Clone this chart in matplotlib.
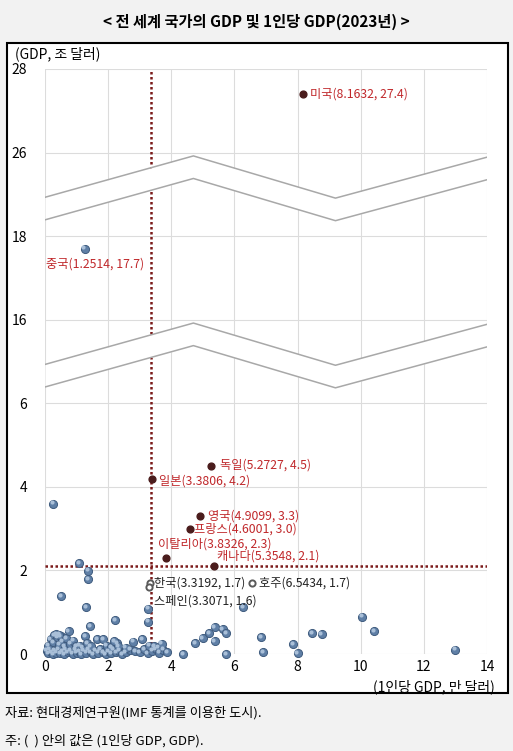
import matplotlib
matplotlib.use("Agg")
import matplotlib.pyplot as plt
import matplotlib.transforms as mtransforms
import numpy as np
from matplotlib.patches import Rectangle

plt.rcParams['font.family'] = ['Noto Sans CJK KR', 'DejaVu Sans']

# ---- data: (1인당 GDP 만 달러, GDP 조 달러) ----
other_x = [0.05, 0.1, 0.15, 0.2, 0.25, 0.3, 0.35, 0.42, 0.48, 0.55, 0.6, 0.65, 0.72, 0.8,
           0.88, 0.95, 1.0, 1.08, 1.15, 1.22, 1.3, 1.38, 1.45, 1.52, 1.6, 1.68, 1.75, 1.85,
           1.92, 2.0, 2.1, 2.18, 2.25, 2.35, 2.45, 2.55, 2.7, 2.85, 3.0, 3.15, 3.25, 3.4,
           3.5, 3.62, 3.75, 3.88,
           0.1, 0.18, 0.25, 0.3, 0.38, 0.45, 0.5, 0.55, 0.62, 0.68, 0.8, 0.9, 0.98, 1.1,
           1.2, 1.27, 1.33, 1.45, 1.66, 1.84, 1.95, 2.1, 2.28, 2.32, 2.2, 2.55, 2.79, 3.07,
           3.3, 3.45, 3.6, 3.7, 0.36, 0.44,
           0.25, 1.08, 1.36, 1.36, 0.51, 1.30, 2.22, 1.43, 3.26, 3.26, 0.75,
           4.38, 4.75, 5.0, 5.2, 5.38, 5.63, 5.73, 5.38, 5.73, 6.27, 6.84, 6.91, 7.86, 8.01,
           8.46, 8.77, 10.04, 10.42, 12.99]
other_y = [0.08, 0.02, 0.12, 0.05, 0.0, 0.08, 0.03, 0.1, 0.02, 0.06, 0.0, 0.12, 0.04, 0.08,
           0.01, 0.1, 0.03, 0.06, 0.0, 0.09, 0.03, 0.12, 0.05, 0.0, 0.08, 0.03, 0.11, 0.04,
           0.0, 0.07, 0.02, 0.1, 0.04, 0.08, 0.0, 0.05, 0.1, 0.06, 0.04, 0.12, 0.02, 0.08,
           0.12, 0.03, 0.1, 0.04,
           0.2, 0.35, 0.28, 0.45, 0.4, 0.22, 0.42, 0.3, 0.18, 0.38, 0.25, 0.32, 0.18, 0.2,
           0.15, 0.42, 0.26, 0.18, 0.36, 0.36, 0.2, 0.17, 0.26, 0.18, 0.3, 0.15, 0.29, 0.36,
           0.2, 0.18, 0.16, 0.25, 0.48, 0.46,
           3.6, 2.18, 1.99, 1.79, 1.39, 1.12, 0.81, 0.67, 1.08, 0.77, 0.55,
           0.0, 0.26, 0.38, 0.5, 0.64, 0.6, 0.5, 0.31, 0.0, 1.12, 0.4, 0.05, 0.24, 0.02,
           0.5, 0.48, 0.89, 0.55, 0.1]

major_names = ['미국', '독일', '일본', '영국', '프랑스', '이탈리아', '캐나다']
major_x = [8.1632, 5.2727, 3.3806, 4.9099, 4.6001, 3.8326, 5.3548]
major_y = [27.4, 4.5, 4.2, 3.3, 3.0, 2.3, 2.1]

china_x, china_y = 1.2514, 17.7

hollow_names = ['한국', '스페인', '호주']
hollow_x = [3.3192, 3.3071, 6.5434]
hollow_y = [1.7, 1.6, 1.7]

avg_x = 3.35
avg_y = 2.1

y_ticks = [0, 2, 4, 6, 16, 18, 26, 28]

# broken y axis: real value -> display position
real_pts = [0, 6, 16, 18, 26, 28]
disp_pts = [0, 6, 8, 10, 12, 14]


def fwd(v):
    return np.interp(v, real_pts, disp_pts)


def inv(d):
    return np.interp(d, disp_pts, real_pts)


fig = plt.figure(figsize=(5.13, 7.51), dpi=100)
fig.patch.set_facecolor('#f2f2f2')
fig.patches.append(Rectangle((7 / 513, 58 / 751), 501 / 513, 650 / 751,
                             transform=fig.transFigure, facecolor='white',
                             edgecolor='black', lw=1.5, zorder=-1))

ax = fig.add_axes([45 / 513, 97 / 751, 442 / 513, 585 / 751])
ax.set_facecolor('none')
ax.set_yscale('function', functions=(fwd, inv))
ax.set_xlim(0, 14)
ax.set_ylim(0, 28)
ax.set_xticks(range(0, 15, 2))
ax.set_yticks(y_ticks)
ax.set_yticklabels([str(t) for t in y_ticks])
ax.minorticks_off()
ax.grid(True, color='#dcdcdc', lw=0.8, zorder=0)
ax.set_axisbelow(True)
for s in ax.spines.values():
    s.set_visible(False)
ax.tick_params(length=0, labelsize=10, pad=4)
ax.tick_params(axis='y', pad=13)

# average lines
red_line = '#7a1a1a'
ax.axvline(avg_x, color=red_line, lw=1.8, ls=(0, (1, 1)), zorder=2)
ax.axhline(avg_y, color=red_line, lw=1.8, ls=(0, (1, 1)), zorder=2)

# break bands (white strips with zigzag edges)
zx = [0, 4.7, 9.2, 14]
zlow = np.array([6.39, 7.38, 6.37, 7.35])
gap = 0.54
trans = ax.get_xaxis_transform()
for shift in [0, 4]:
    lo = (zlow + shift) / 14
    hi = (zlow + shift + gap) / 14
    ax.fill_between(zx, lo, hi, transform=trans, color='white', lw=0, zorder=3)
    ax.plot(zx, lo, transform=trans, color='#a8a8a8', lw=1.1, zorder=4)
    ax.plot(zx, hi, transform=trans, color='#a8a8a8', lw=1.1, zorder=4)

# points (sphere look: base + small highlight)
hl = mtransforms.offset_copy(ax.transData, fig=fig, x=-1.0, y=1.0, units='points')
for xs, ys in [(other_x, other_y), ([china_x], [china_y])]:
    ax.scatter(xs, ys, s=34, color='#5f7fa6', edgecolor='#3f5b7e', lw=0.7,
               zorder=5, clip_on=False)
    ax.scatter(xs, ys, s=9, color='#a9bfd8', lw=0, zorder=5, clip_on=False,
               transform=hl)
ax.scatter(major_x, major_y, s=24, color='#4a1c1c', zorder=6)
ax.scatter(hollow_x, hollow_y, s=20, facecolor='white', edgecolor='#5a5a5a', lw=1.4, zorder=6)

lab_red = '#c0282b'
offsets = {'미국': (5, 0),
           '독일': (6, 1),
           '일본': (5, -2),
           '영국': (6, 0),
           '프랑스': (3, 0),
           '이탈리아': (-6, 10),
           '캐나다': (2, 7)}
for n, x, y in zip(major_names, major_x, major_y):
    dx, dy = offsets[n]
    ax.annotate(f'{n}({x:.4f}, {y:.1f})', (x, y), xytext=(dx, dy),
                textcoords='offset points', ha='left', va='center', fontsize=8.8,
                color=lab_red, zorder=7)
ax.annotate(f'중국({china_x:.4f}, {china_y:.1f})', (china_x, china_y), xytext=(-28, -11),
            textcoords='offset points', ha='left', va='center', fontsize=8.8,
            color=lab_red, zorder=7)

h_off = {'한국': (3, 0), '스페인': (3, -10), '호주': (5, 0)}
for n, x, y in zip(hollow_names, hollow_x, hollow_y):
    dx, dy = h_off[n]
    ax.annotate(f'{n}({x:.4f}, {y:.1f})', (x, y), xytext=(dx, dy),
                textcoords='offset points', ha='left', va='center', fontsize=8.8,
                color='#222222', zorder=7)

# texts
fig.text(0.5, 1 - 22 / 751, '< 전 세계 국가의 GDP 및 1인당 GDP(2023년) >',
         ha='center', va='center', fontsize=11, weight='bold')
fig.text(15 / 513, 1 - 54 / 751, '(GDP, 조 달러)', ha='left', va='center', fontsize=10)
fig.text(495 / 513, 1 - 687 / 751, '(1인당 GDP, 만 달러)', ha='right', va='center', fontsize=10)
fig.text(5 / 513, 1 - 713 / 751, '자료: 현대경제연구원(IMF 통계를 이용한 도시).',
         ha='left', va='center', fontsize=9.5)
fig.text(5 / 513, 1 - 741 / 751, '주: (  ) 안의 값은 (1인당 GDP, GDP).',
         ha='left', va='center', fontsize=9.5)

fig.savefig('out.png', dpi=100, facecolor=fig.get_facecolor())
